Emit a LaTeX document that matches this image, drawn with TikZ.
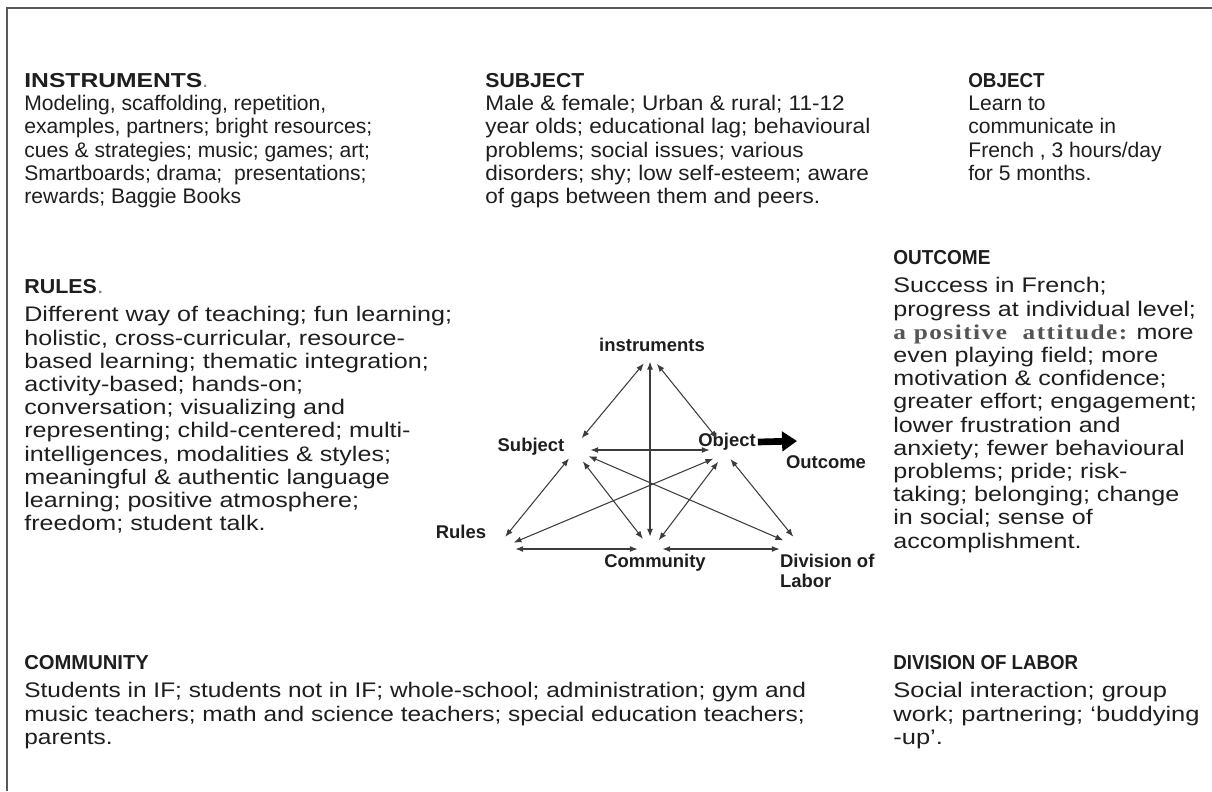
\documentclass[tikz,border=0pt]{standalone}
\usepackage{fontspec}
\usepackage{graphicx}
\setmainfont{Liberation Sans}
\newfontfamily\serifbold{Liberation Serif}[FakeStretch=1.2, LetterSpace=7]
\newfontfamily\subjfont{Liberation Sans}[FakeStretch=1.07]
\newfontfamily\outcfont{Liberation Sans}[FakeStretch=1.19]
\newfontfamily\rulefont{Liberation Sans}[FakeStretch=1.19]
\newfontfamily\commfont{Liberation Sans}[FakeStretch=1.16]
\newfontfamily\divlfont{Liberation Sans}[FakeStretch=1.21]
\newfontfamily\headfont{Liberation Sans}
\definecolor{txtgray}{RGB}{30, 30, 30}
\definecolor{linkgray}{RGB}{60, 60, 60}
\definecolor{attgray}{RGB}{85, 85, 85}
\usetikzlibrary{arrows.meta, positioning}
\newcommand{\hd}[2][1]{\scalebox{#1}[1]{\headfont\bfseries\fontsize{11.5}{13.2}\selectfont #2}}

\begin{document}
\begin{tikzpicture}[x=0.02cm, y=-0.02cm,
  block/.style={anchor=north west, align=left, inner sep=0pt, text=txtgray, font=\fontsize{12}{13.2}\selectfont},
  lab/.style={inner sep=1pt, text=txtgray, font=\bfseries\fontsize{10.5}{11.3}\selectfont},
  hub/.style={circle, inner sep=0pt, minimum size=13.6pt},
  link/.style={{Latex[length=4.5pt,width=3.4pt]}-{Latex[length=4.5pt,width=3.4pt]}, draw=linkgray, line width=0.6pt},
  bigarr/.style={-{Triangle[length=8.5pt,width=11pt]}, line width=3.8pt, draw=black}]
  \useasboundingbox (0,0) rectangle (1212,791);

  % frame (only left and top edges show)
  \draw[line width=1.2pt, draw=black!65] (7,791) -- (7,8) -- (1212,8);

  % Instruments
  \node[block] (instr) at (24,73) {
    \hd[1.22]{INSTRUMENTS}{\color{gray}.}\\
    Modeling, scaffolding, repetition,\\
    examples, partners; bright resources;\\
    cues \& strategies; music; games; art;\\
    Smartboards; drama; \ presentations;\\
    rewards; Baggie Books};

  % Subject
  \node[block, font=\subjfont\fontsize{12}{13.2}\selectfont] (subj) at (485,73) {
    \hd[1.05]{SUBJECT}\\
    Male \& female; Urban \& rural; 11-12\\
    year olds; educational lag; behavioural\\
    problems; social issues; various\\
    disorders; shy; low self-esteem; aware\\
    of gaps between them and peers.};

  % Object
  \node[block] (obj) at (968,73) {
    \hd[0.93]{OBJECT}\\
    Learn to\\
    communicate in\\
    French , 3 hours/day\\
    for 5 months.};

  % Outcome
  \node[block, font=\outcfont\fontsize{12}{13.2}\selectfont] (outc) at (893,250) {
    \hd[0.94]{OUTCOME}\\[3pt]
    Success in French;\\
    progress at individual level;\\
    {\serifbold\bfseries\color{attgray}a positive \ attitude:} more\\
    even playing field; more\\
    motivation \& confidence;\\
    greater effort; engagement;\\
    lower frustration and\\
    anxiety; fewer behavioural\\
    problems; pride; risk-\\
    taking; belonging; change\\
    in social; sense of\\
    accomplishment.};

  % Rules
  \node[block, font=\rulefont\fontsize{12}{13.2}\selectfont] (rules) at (24,279) {
    \hd[1.06]{RULES}{\color{gray}.}\\[3pt]
    Different way of teaching; fun learning;\\
    holistic, cross-curricular, resource-\\
    based learning; thematic integration;\\
    activity-based; hands-on;\\
    conversation; visualizing and\\
    representing; child-centered; multi-\\
    intelligences, modalities \& styles;\\
    meaningful \& authentic language\\
    learning; positive atmosphere;\\
    freedom; student talk.};

  % Community
  \node[block, font=\commfont\fontsize{12}{13.2}\selectfont] (comm) at (24,655) {
    \hd{COMMUNITY}\\[3pt]
    Students in IF; students not in IF; whole-school; administration; gym and\\
    music teachers; math and science teachers; special education teachers;\\
    parents.};

  % Division of labor
  \node[block, font=\divlfont\fontsize{12}{13.2}\selectfont] (divl) at (893,655) {
    \hd[0.925]{DIVISION OF LABOR}\\[3pt]
    Social interaction; group\\
    work; partnering; ‘buddying\\
    -up’.};

  % triangle labels
  \node[lab] (lins) at (652,345) {instruments};
  \node[lab] (lsub) at (531,447) {Subject};
  \node[lab] (lobj) at (727,442) {Object};
  \node[lab] (lout) at (826,462) {Outcome};
  \node[lab] (lrul) at (461,532) {Rules};
  \node[lab] (lcom) at (655,563) {Community};
  \node[lab, align=left, anchor=north west] (ldiv) at (778,552) {Division of\\Labor};

  % hubs where the arrows meet
  \node[hub] (hI) at (650,374) {};
  \node[hub] (hS) at (578,450) {};
  \node[hub] (hO) at (722,450) {};
  \node[hub] (hR) at (503,549) {};
  \node[hub] (hC) at (650,549) {};
  \node[hub] (hD) at (792,549) {};

  \draw[link] (hI.120) -- (hS.73);
  \draw[link] (hI.90) -- (hC.90);
  \draw[link] (hI.56) -- (hO.113);
  \draw[link] (hS.0) -- (hO.180);
  \draw[link] (hS.-137) -- (hR.80);
  \draw[link] (hS.-67) -- (hC.125);
  \draw[link] (hS.-30) -- (hD.135);
  \draw[link] (hO.-135) -- (hR.31);
  \draw[link] (hO.-108) -- (hC.45);
  \draw[link] (hO.-47) -- (hD.84);
  \draw[link] (hR.0) -- (hC.180);
  \draw[link] (hC.0) -- (hD.180);

  % object leads to outcome
  \coordinate (otip) at (797,441);
  \draw[bigarr] (lobj.east) -- (otip);
\end{tikzpicture}
\end{document}
